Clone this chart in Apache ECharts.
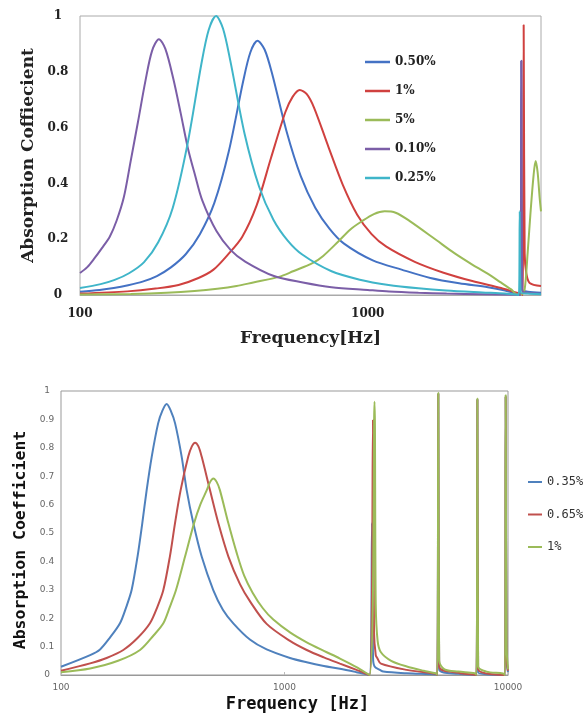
<!DOCTYPE html>
<html>
<head>
<meta charset="utf-8">
<script src="https://cdn.jsdelivr.net/npm/echarts@6/dist/echarts.min.js"></script>
<style>
  html, body { margin: 0; padding: 0; background: #fff; }
  #main { width: 587px; height: 717px; }
</style>
</head>
<body>
<div id="main"></div>
<script>
// ---- upper chart: perforation ratio ----
const topNames = ["0.50%", "1%", "5%", "0.10%", "0.25%"];

const f050 = [100,117,131,147,165,185,207,233,261,293,329,369,391,414,438,465,522,585,657,737,827,1041,1311,1650,2078,2616,3000,3300,3395,3418,3440,3600,4000];
const a050 = [0.012,0.018,0.025,0.035,0.048,0.068,0.099,0.146,0.218,0.33,0.515,0.766,0.87,0.911,0.88,0.794,0.587,0.426,0.313,0.237,0.184,0.124,0.091,0.061,0.042,0.028,0.016,0.004,0.0,0.84,0.02,0.012,0.008];

const f100 = [100,146,183,220,258,291,326,366,411,461,517,548,580,614,651,730,819,919,1031,1157,1457,1834,2308,2906,3200,3400,3462,3482,3510,3556,3652,4000];
const a100 = [0.005,0.013,0.023,0.036,0.061,0.091,0.144,0.208,0.321,0.491,0.655,0.71,0.735,0.72,0.671,0.531,0.395,0.288,0.218,0.174,0.119,0.08,0.05,0.025,0.012,0.004,0.0,0.968,0.15,0.078,0.043,0.032];

const f5 = [100,150,200,250,300,350,400,491,550,645,700,787,870,950,1050,1145,1250,1400,1730,2000,2300,2583,2900,3150,3290,3420,3509,3594,3681,3770,3831,3893,3956,4000];
const a5 = [0.002,0.004,0.008,0.014,0.022,0.032,0.045,0.065,0.085,0.115,0.14,0.19,0.235,0.263,0.29,0.30,0.295,0.265,0.197,0.15,0.11,0.079,0.045,0.02,0.003,0.003,0.02,0.15,0.30,0.43,0.48,0.44,0.35,0.30];

const f010 = [100,106,112,119,127,134,142,150,159,169,178,188,198,211,224,237,251,266,298,334,375,472,595,748,1000,1186,1500,1879,2500,3300,3395,3418,3440,3600,4000];
const a010 = [0.079,0.10,0.13,0.167,0.21,0.266,0.35,0.48,0.62,0.77,0.875,0.917,0.882,0.775,0.65,0.527,0.43,0.339,0.229,0.161,0.12,0.068,0.045,0.028,0.018,0.0125,0.008,0.005,0.003,0.001,0.0,0.84,0.015,0.008,0.004];

const f025 = [100,118,132,148,167,187,210,236,264,280,297,314,333,373,419,470,527,592,745,938,1181,1500,1871,2500,3000,3350,3374,3398,3600,4000];
const a025 = [0.025,0.039,0.054,0.078,0.118,0.189,0.312,0.537,0.827,0.95,1.0,0.955,0.839,0.579,0.389,0.27,0.195,0.145,0.086,0.055,0.036,0.024,0.016,0.009,0.005,0.0,0.30,0.01,0.005,0.003];

// ---- lower chart ----
const bottomNames = ["0.35%", "0.65%", "1% "];

const fb035 = [100,135,149.5,165,183.6,196,207,220,231,241.7,254.7,272,284,297,310,324,346.6,365,391,426,480,530,590,700,832,1058,1257,1500,1771,2100,2401,2464,2490,2530,2673,2767,3524,4750,4830,4876,4920,6000,7230,7293,7350,9700,9765,9850,10000];
const ab035 = [0.029,0.07,0.09,0.13,0.182,0.24,0.299,0.417,0.534,0.651,0.769,0.886,0.93,0.954,0.93,0.886,0.769,0.651,0.534,0.417,0.299,0.23,0.182,0.125,0.09,0.06,0.045,0.032,0.022,0.01,0.0,0.535,0.06,0.03,0.018,0.012,0.006,0.002,0.0,0.99,0.02,0.004,0.0,0.97,0.01,0.0,0.98,0.05,0.01];

const fb065 = [100,135,160,190,220,250,270,287,307,323.6,343,371,385,398,412,426,464,506,561,632,700,832,1058,1257,1500,1771,2100,2401,2489,2515,2560,2600,2700,3524,4750,4830,4876,4920,6000,7230,7293,7350,9700,9765,9850,10000];
const ab065 = [0.015,0.041,0.06,0.088,0.13,0.182,0.24,0.299,0.417,0.534,0.651,0.769,0.805,0.818,0.805,0.769,0.651,0.534,0.417,0.32,0.26,0.18,0.12,0.088,0.062,0.04,0.018,0.0,0.898,0.15,0.07,0.06,0.04,0.018,0.004,0.0,0.99,0.03,0.008,0.0,0.97,0.02,0.0,0.98,0.06,0.015];

const fb1 = [100,135,180,225.7,260,287,307,327,359,393.6,420,449,465,480.5,497,514,561,611,660,720,800,891,1058,1257,1500,1771,2100,2401,2528,2560,2610,2700,3000,3524,4200,4750,4830,4876,4920,5200,6000,7100,7230,7293,7350,8000,9500,9700,9765,9850,10000];
const ab1 = [0.01,0.023,0.05,0.088,0.14,0.182,0.24,0.299,0.417,0.534,0.6,0.651,0.68,0.692,0.68,0.651,0.534,0.43,0.35,0.29,0.235,0.195,0.15,0.115,0.085,0.058,0.028,0.0,0.962,0.25,0.12,0.08,0.05,0.03,0.015,0.006,0.0,0.994,0.05,0.02,0.012,0.006,0.0,0.974,0.03,0.012,0.005,0.0,0.986,0.1,0.02];

const serif = '"DejaVu Serif", serif';
const mono = '"DejaVu Sans Mono", monospace';

function pairs(f, a) {
  return f.map((x, i) => [x, a[i]]);
}

function line(name, data, color, axis) {
  return {
    name: name,
    type: "line",
    xAxisIndex: axis,
    yAxisIndex: axis,
    data: data,
    showSymbol: false,
    smooth: 0.3,
    lineStyle: { width: 2, color: color },
    itemStyle: { color: color }
  };
}

const chart = echarts.init(document.getElementById("main"));
chart.setOption({
  animation: false,
  backgroundColor: "#fff",
  grid: [
    { left: 80, top: 16, width: 461, height: 279, show: true, borderColor: "#aaa", borderWidth: 1 },
    { left: 61, top: 391, width: 447, height: 284, show: true, borderColor: "#999", borderWidth: 1 }
  ],
  legend: [
    {
      data: topNames,
      orient: "vertical",
      left: 360,
      top: 49,
      icon: "rect",
      itemWidth: 25,
      itemHeight: 2.5,
      itemGap: 13,
      textStyle: { fontFamily: serif, fontWeight: "bold", fontSize: 12, color: "#222", lineHeight: 16 }
    },
    {
      data: bottomNames,
      orient: "vertical",
      left: 528,
      top: 474,
      padding: 0,
      icon: "rect",
      itemWidth: 14,
      itemHeight: 2,
      itemGap: 16.5,
      formatter: n => n.trim(),
      textStyle: { fontFamily: mono, fontSize: 12, color: "#333", lineHeight: 16 }
    }
  ],
  xAxis: [
    {
      gridIndex: 0, type: "log", logBase: 10, min: 100, max: 4000,
      axisLine: { lineStyle: { color: "#aaa" } },
      axisTick: { show: false },
      splitLine: { show: false },
      axisLabel: {
        showMaxLabel: false, margin: 13,
        formatter: v => String(Math.round(v)),
        fontFamily: serif, fontWeight: "bold", fontSize: 12, color: "#222"
      },
      name: "Frequency[Hz]", nameLocation: "middle", nameGap: 35,
      nameTextStyle: { fontFamily: serif, fontWeight: "bold", fontSize: 17, color: "#222" }
    },
    {
      gridIndex: 1, type: "log", logBase: 10, min: 100, max: 10000,
      axisLine: { lineStyle: { color: "#999" } },
      axisTick: { show: true, inside: true, length: 3, lineStyle: { color: "#bbb" } },
      splitLine: { show: false },
      axisLabel: {
        margin: 8,
        formatter: v => String(Math.round(v)),
        fontFamily: '"DejaVu Sans", sans-serif', fontSize: 9, color: "#666"
      },
      name: "Frequency [Hz]", nameLocation: "middle", nameGap: 21,
      nameTextStyle: { fontFamily: mono, fontWeight: "bold", fontSize: 17, color: "#111", padding: [0, 0, 0, 26] }
    }
  ],
  yAxis: [
    {
      gridIndex: 0, type: "value", min: 0, max: 1, interval: 0.2,
      axisLine: { show: false }, axisTick: { show: false }, splitLine: { show: false },
      axisLabel: { align: "center", margin: 22, fontFamily: serif, fontWeight: "bold", fontSize: 12, color: "#222" },
      name: "Absorption Coffiecient", nameLocation: "middle", nameGap: 38,
      nameTextStyle: { fontFamily: serif, fontWeight: "bold", fontSize: 17, color: "#222" }
    },
    {
      gridIndex: 1, type: "value", min: 0, max: 1, interval: 0.1,
      axisLine: { show: false }, axisTick: { show: false }, splitLine: { show: false },
      axisLabel: { align: "center", margin: 14, fontFamily: '"DejaVu Sans", sans-serif', fontSize: 9, color: "#666" },
      name: "Absorption Coefficient", nameLocation: "middle", nameGap: 31,
      nameTextStyle: { fontFamily: mono, fontWeight: "bold", fontSize: 16.5, color: "#111", padding: [0, 14, 0, 0] }
    }
  ],
  series: [
    line("0.50%", pairs(f050, a050), "#4472c4", 0),
    line("1%", pairs(f100, a100), "#d0413f", 0),
    line("5%", pairs(f5, a5), "#9bbb59", 0),
    line("0.10%", pairs(f010, a010), "#7b5ea7", 0),
    line("0.25%", pairs(f025, a025), "#3fb5c9", 0),
    line("0.35%", pairs(fb035, ab035), "#4f81bd", 1),
    line("0.65%", pairs(fb065, ab065), "#c0504d", 1),
    line("1% ", pairs(fb1, ab1), "#9bbb59", 1)
  ]
});
</script>
</body>
</html>
